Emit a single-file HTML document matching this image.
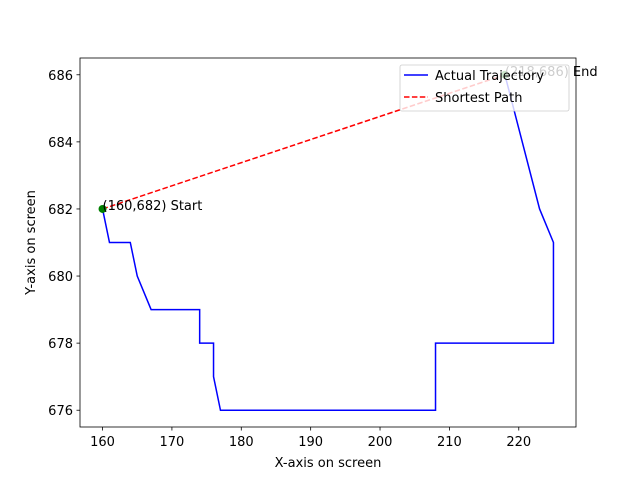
<!DOCTYPE html>
<html><head><meta charset="utf-8"><style>body{margin:0;background:#fff}svg{font-family:"DejaVu Sans","Liberation Sans",sans-serif}</style></head>
<body>
<svg id="c" width="640" height="480" viewBox="0 0 640 480" xmlns="http://www.w3.org/2000/svg"></svg>
<script>
const trajX=[160,161,164,165,167,174,174,176,176,177,208,208,225,225,223,218];
const trajY=[682,681,681,680,679,679,678,678,677,676,676,678,678,681,682,686];
const pathX=[160,218];
const pathY=[682,686];
const xTicks=[160,170,180,190,200,210,220];
const yTicks=[676,678,680,682,684,686];
const L=80,R=576,T=58,B=427;
const xmin=156.75,xmax=228.25,ymin=675.5,ymax=686.5;
const FS=13;
const sx=v=>L+(v-xmin)/(xmax-xmin)*(R-L);
const sy=v=>B-(v-ymin)/(ymax-ymin)*(B-T);
const svg=document.getElementById('c');const NS='http://www.w3.org/2000/svg';
function add(tag,attrs,name,text){const e=document.createElementNS(NS,tag);for(const k in attrs)e.setAttribute(k,attrs[k]);


if(text!==undefined)e.textContent=text;svg.appendChild(e);return e;}
xTicks.forEach(t=>{const x=sx(t);add('line',{x1:x,x2:x,y1:B,y2:B+3.5,stroke:'#000','stroke-width':0.8},'x-tick');
add('text',{x:x,y:B+19,'font-size':FS,'text-anchor':'middle'},'x-tick-label',t);});
yTicks.forEach(t=>{const y=sy(t);add('line',{x1:L-3.5,x2:L,y1:y,y2:y,stroke:'#000','stroke-width':0.8},'y-tick');
add('text',{x:L-7,y:y+5,'font-size':FS,'text-anchor':'end'},'y-tick-label',t);});
add('polyline',{points:trajX.map((v,i)=>sx(v)+','+sy(trajY[i])).join(' '),fill:'none',stroke:'#0000ff','stroke-width':1.5},'actual-trajectory-line');
add('polyline',{points:pathX.map((v,i)=>sx(v)+','+sy(pathY[i])).join(' '),fill:'none',stroke:'#ff0000','stroke-width':1.5,'stroke-dasharray':'5.5,2.4'},'shortest-path-line');
add('circle',{cx:sx(pathX[0]),cy:sy(pathY[0]),r:4,fill:'#008000'},'start-point');
add('circle',{cx:sx(pathX[1]),cy:sy(pathY[1]),r:4,fill:'#008000'},'end-point');
add('text',{x:sx(pathX[0]),y:sy(pathY[0])+1,'font-size':FS},'start-label','('+pathX[0]+','+pathY[0]+') Start');
add('text',{x:sx(pathX[1]),y:sy(pathY[1])+1,'font-size':FS},'end-label','('+pathX[1]+','+pathY[1]+') End');
add('rect',{x:L,y:T,width:R-L,height:B-T,fill:'none',stroke:'#000','stroke-width':0.8},'plot-frame');
add('rect',{x:400,y:65,width:169,height:46,rx:2,fill:'#fff','fill-opacity':0.8,stroke:'#ccc','stroke-width':0.8},'legend-box');
add('line',{x1:404,x2:428,y1:75,y2:75,stroke:'#0000ff','stroke-width':1.5},'legend-trajectory-swatch');
add('text',{x:435,y:80,'font-size':FS},'legend-trajectory-label','Actual Trajectory');
add('line',{x1:404,x2:428,y1:97,y2:97,stroke:'#ff0000','stroke-width':1.5,'stroke-dasharray':'5.5,2.4'},'legend-path-swatch');
add('text',{x:435,y:102,'font-size':FS},'legend-path-label','Shortest Path');
add('text',{x:(L+R)/2,y:467,'font-size':FS,'text-anchor':'middle'},'x-axis-title','X-axis on screen');
add('text',{x:35,y:(T+B)/2,'font-size':FS,'text-anchor':'middle',transform:'rotate(-90 35 '+((T+B)/2)+')'},'y-axis-title','Y-axis on screen');
</script>
</body></html>
